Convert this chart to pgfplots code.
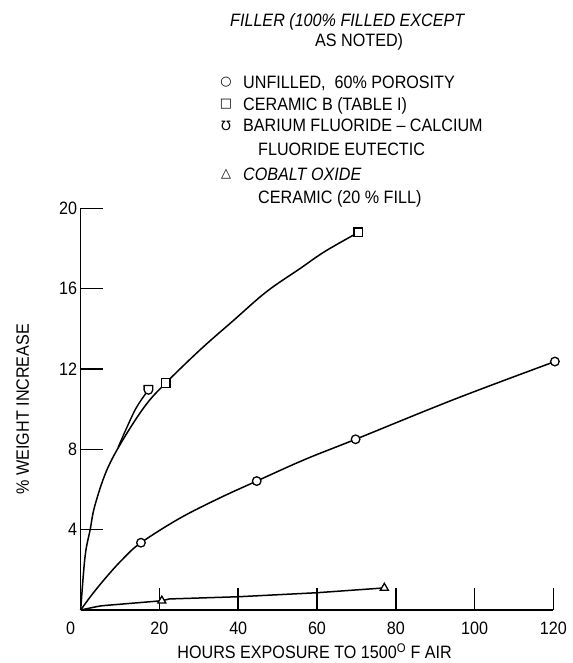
\documentclass[border=0pt]{standalone}
\usepackage{fontspec}
\setmainfont{Liberation Sans}[FakeStretch=0.9]
\newfontfamily\symfont{DejaVu Sans}
\usepackage{pgfplots}
\pgfplotsset{compat=1.18}
\pgfdeclareplotmark{shield}{%
  \pgfpathmoveto{\pgfqpoint{-\pgfplotmarksize}{\pgfplotmarksize}}%
  \pgfpathlineto{\pgfqpoint{-\pgfplotmarksize}{0pt}}%
  \pgfpatharc{180}{360}{\pgfplotmarksize}%
  \pgfpathlineto{\pgfqpoint{\pgfplotmarksize}{\pgfplotmarksize}}%
  \pgfpathclose
  \pgfusepathqfillstroke}
\begin{document}
\begin{tikzpicture}[font=\fontsize{18}{20}\selectfont]
\useasboundingbox (-80.7bp,-53bp) rectangle (492.3bp,610bp);
\begin{axis}[
  scale only axis, width=472.6bp, height=401.7bp,
  xmin=0, xmax=120, ymin=0, ymax=20,
  axis lines=left, axis line style={line width=1.5bp,-},
  xtick={0,20,...,120},
  xticklabels={\makebox[0pt][r]{0\hspace{5.5bp}},20,40,60,80,100,120},
  ytick={4,8,12,16,20},
  tick align=inside, major tick length=22bp,
  tick style={line width=1.5bp, black},
  ticklabel style={font=\fontsize{18}{20}\selectfont},
  xticklabel style={yshift=-8bp},
  /pgf/number format/assume math mode=true,
  xlabel={HOURS EXPOSURE TO 1500\textsuperscript{O} F AIR},
  ylabel={\% WEIGHT INCREASE},
  every axis x label/.style={at={(axis description cs:0.495,-0.102)},anchor=center},
  every axis y label/.style={at={(axis description cs:-0.1227,0.5)},rotate=90,anchor=center},
  label style={font=\fontsize{18}{20}\selectfont},
  clip=false,
]
% Unfilled, 60% porosity
\addplot[line width=1.5bp, smooth, tension=0.6] coordinates {
  (0,0) (3,0.8) (7,1.75) (11,2.6) (15.3,3.35) (25,4.55) (35,5.55)
  (44.7,6.42) (57,7.5) (69.8,8.5) (95,10.5) (120.4,12.37)};
% Ceramic B
\addplot[line width=1.5bp, smooth, tension=0.6] coordinates {
  (0,0) (1.1,2.65) (2.4,4.0) (3.6,5.2) (6.6,6.95) (10.8,8.5) (16.5,10.2) (21.6,11.3)
  (30.3,12.95) (38.7,14.4) (47.2,15.85) (55.7,17.0) (62,17.85) (70.5,18.8)};
% BaF2-CaF2 eutectic
\addplot[line width=1.4bp, smooth, tension=0.5] coordinates {
  (9.5,8.1) (13.8,9.96) (17.2,10.96)};
% Cobalt oxide
\addplot[line width=1.5bp, smooth, tension=0.3] coordinates {
  (0,0) (5,0.2) (10.8,0.3) (20.6,0.46)};
\addplot[line width=1.5bp] coordinates {
  (20.6,0.46) (22.5,0.55) (40,0.66) (60,0.86) (77.1,1.1)};
% markers
\addplot[only marks, mark=*, mark size=4.3bp, mark options={fill=white, draw=black, line width=1.3bp}]
  coordinates {(15.3,3.35) (44.7,6.42) (69.8,8.5) (120.4,12.37)};
\addplot[only marks, mark=square*, mark size=4.3bp, mark options={fill=white, draw=black, line width=1.3bp}]
  coordinates {(21.6,11.3) (70.5,18.8)};
\addplot[only marks, mark=shield, mark size=4.3bp, mark options={fill=white, draw=black, line width=1.3bp}]
  coordinates {(17.2,10.96)};
\addplot[only marks, mark=triangle*, mark size=4.6bp, mark options={fill=white, draw=black, line width=1.3bp}]
  coordinates {(20.6,0.46) (77.1,1.1)};
\end{axis}
% key
\begin{scope}[every node/.style={inner sep=0pt}]
\node[anchor=base west, font=\itshape\fontsize{18}{20}\selectfont] at (149.3bp,583bp) {FILLER (100\% FILLED EXCEPT};
\node[anchor=base west] at (234.3bp,563bp) {AS NOTED)};
\node at (145.3bp,527.5bp) {\symfont\fontsize{13}{15}\selectfont ○};
\node[anchor=base west] at (162.3bp,521bp) {UNFILLED,\ \ 60\% POROSITY};
\node at (145.3bp,505.5bp) {\symfont\fontsize{13}{15}\selectfont □};
\node[anchor=base west] at (162.3bp,499bp) {CERAMIC B (TABLE I)};
\node at (145.3bp,484.5bp) {\symfont\fontsize{13}{15}\selectfont Ʊ};
\node[anchor=base west] at (162.3bp,478bp) {BARIUM FLUORIDE – CALCIUM};
\node[anchor=base west] at (177.3bp,454bp) {FLUORIDE EUTECTIC};
\node at (145.3bp,435.5bp) {\symfont\fontsize{13}{15}\selectfont △};
\node[anchor=base west, font=\itshape\fontsize{18}{20}\selectfont] at (162.3bp,429bp) {COBALT OXIDE};
\node[anchor=base west] at (177.3bp,406bp) {CERAMIC (20 \% FILL)};
\end{scope}
\end{tikzpicture}
\end{document}
